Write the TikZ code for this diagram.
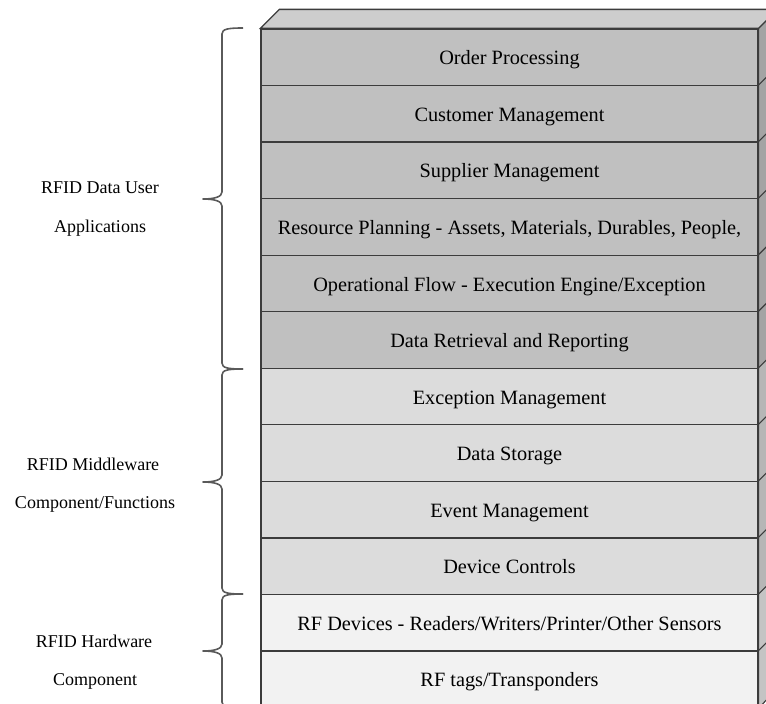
\documentclass[tikz,border=0pt]{standalone}
\usepackage{fontspec}
\setmainfont{Liberation Serif}
\definecolor{edge}{HTML}{3C3C3C}
\definecolor{appfill}{HTML}{C0C0C0}
\definecolor{midfill}{HTML}{DCDCDC}
\definecolor{hwfill}{HTML}{F2F2F2}
\definecolor{topfill}{HTML}{CDCDCD}
\definecolor{appside}{HTML}{A4A4A4}
\definecolor{midside}{HTML}{B6B6B6}
\definecolor{hwside}{HTML}{C4C4C4}
\definecolor{bracegray}{HTML}{5A5A5A}
% left-facing curly brace: top end, tip, bottom end (y values)
\newcommand\drawlayerbrace[3]{%
  \draw[layerbrace] (243,#1) .. controls (228,#1) and (222,#1+1) .. (222,#1+6)
    -- (222,#2-7) .. controls (222,#2-2) and (214,#2) .. (203,#2)
    .. controls (214,#2) and (222,#2+2) .. (222,#2+7)
    -- (222,#3-6) .. controls (222,#3-1) and (228,#3) .. (243,#3);}
% side face of a layer, to the right of a row node
\newcommand\sideface[2]{%
  \filldraw[fill=#2, draw=edge, line width=1.1pt]
    (#1.north east) -- ++(19,-19) -- ++(0,56.55) -- (#1.south east) -- cycle;}
\begin{document}
\begin{tikzpicture}[x=1pt, y=-1pt,
  layer/.style={draw=edge, line width=1.3pt, minimum width=497pt,
    minimum height=56.55pt, inner sep=0pt, text height=16pt, text depth=1pt,
    font=\fontsize{20.3}{24}\selectfont},
  applayer/.style={layer, fill=appfill},
  midlayer/.style={layer, fill=midfill},
  hwlayer/.style={layer, fill=hwfill},
  groupname/.style={anchor=base, inner sep=0pt, font=\fontsize{18}{22}\selectfont},
  layerbrace/.style={draw=bracegray, line width=1.6pt, line join=round}]
\useasboundingbox (0,0) rectangle (766,704);
\clip (0,0) rectangle (766,704);

% application layers
\node[applayer] (r1)  at (509.5,57.3)  {Order Processing};
\node[applayer] (r2)  at (509.5,113.8) {Customer Management};
\node[applayer] (r3)  at (509.5,170.4) {Supplier Management};
\node[applayer] (r4)  at (509.5,226.9) {Resource Planning - Assets, Materials, Durables, People,};
\node[applayer] (r5)  at (509.5,283.5) {Operational Flow - Execution Engine/Exception};
\node[applayer] (r6)  at (509.5,340.0) {Data Retrieval and Reporting};
% middleware layers
\node[midlayer] (r7)  at (509.5,396.6) {Exception Management};
\node[midlayer] (r8)  at (509.5,453.1) {Data Storage};
\node[midlayer] (r9)  at (509.5,509.7) {Event Management};
\node[midlayer] (r10) at (509.5,566.2) {Device Controls};
% hardware layers
\node[hwlayer] (r11) at (509.5,622.8) {RF Devices - Readers/Writers/Printer/Other Sensors};
\node[hwlayer] (r12) at (509.5,679.3) {RF tags/Transponders};

% top face of the stack
\filldraw[fill=topfill, draw=edge, line width=1.3pt]
  (r1.north west) -- ++(19,-19) -- ([shift={(19,-19)}]r1.north east)
  -- (r1.north east) -- cycle;

% right side faces
\foreach \r in {r1,r2,r3,r4,r5,r6}{\sideface{\r}{appside}}
\foreach \r in {r7,r8,r9,r10}{\sideface{\r}{midside}}
\foreach \r in {r11,r12}{\sideface{\r}{hwside}}

% group braces
\drawlayerbrace{28}{199}{369}
\drawlayerbrace{369}{482}{594}
\drawlayerbrace{594}{651}{708}

% group names
\node[groupname] (g1a) at (100,193) {RFID Data User};
\node[groupname] (g1b) at (100,232) {Applications};
\node[groupname] (g2a) at (93,470) {RFID Middleware};
\node[groupname] (g2b) at (95,508) {Component/Functions};
\node[groupname] (g3a) at (94,647) {RFID Hardware};
\node[groupname] (g3b) at (95,685) {Component};
\end{tikzpicture}
\end{document}
